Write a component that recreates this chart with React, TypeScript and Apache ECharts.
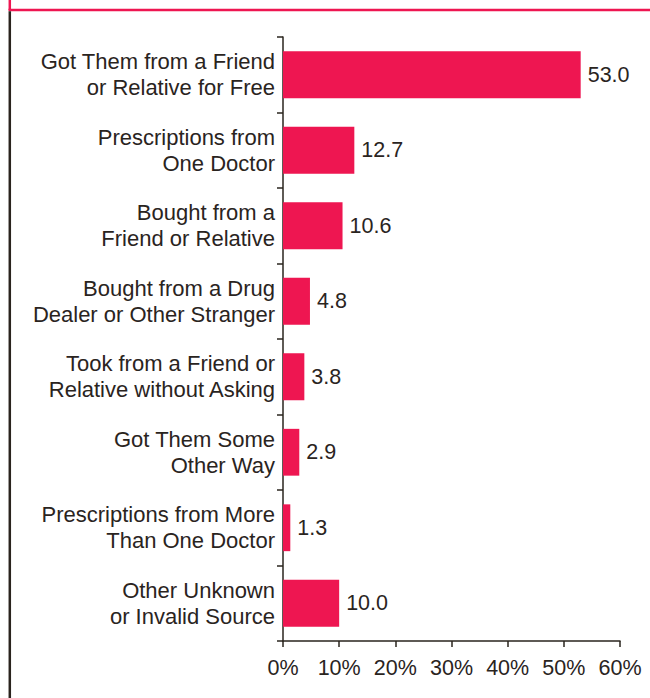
import React, { useEffect, useRef } from "react";
import * as echarts from "echarts";

const categories = [
  "Got Them from a Friend\nor Relative for Free",
  "Prescriptions from\nOne Doctor",
  "Bought from a\nFriend or Relative",
  "Bought from a Drug\nDealer or Other Stranger",
  "Took from a Friend or\nRelative without Asking",
  "Got Them Some\nOther Way",
  "Prescriptions from More\nThan One Doctor",
  "Other Unknown\nor Invalid Source",
];
const values = [53.0, 12.7, 10.6, 4.8, 3.8, 2.9, 1.3, 10.0];
const xTicks = [0, 10, 20, 30, 40, 50, 60];

const TEXT = "#2a241e";
const PINK = "#EE1651";
const FONT = "'Liberation Sans', Arial, Helvetica, sans-serif";

export default function App() {
  const ref = useRef<HTMLDivElement>(null);
  useEffect(() => {
    if (!ref.current) return;
    const chart = echarts.init(ref.current, null, { renderer: "svg" });
    chart.setOption({
      animation: false,
      backgroundColor: "#ffffff",
      textStyle: { fontFamily: FONT },
      grid: { left: 283, right: 30, top: 37, bottom: 57, containLabel: false },
      xAxis: {
        type: "value",
        min: xTicks[0],
        max: xTicks[xTicks.length - 1],
        interval: 10,
        splitLine: { show: false },
        axisLine: { show: true, lineStyle: { color: TEXT, width: 1.5 } },
        axisTick: { show: true, length: 6, lineStyle: { color: TEXT, width: 1.5 } },
        axisLabel: {
          color: TEXT,
          fontSize: 21.5,
          fontFamily: FONT,
          margin: 16,
          formatter: (v: number) => `${v}%`,
        },
      },
      yAxis: {
        type: "category",
        inverse: true,
        data: categories,
        axisLine: { show: true, lineStyle: { color: TEXT, width: 1.5 } },
        axisTick: { show: true, length: 6, lineStyle: { color: TEXT, width: 1.5 } },
        axisLabel: {
          color: TEXT,
          fontSize: 22,
          lineHeight: 26,
          fontFamily: FONT,
          margin: 8,
          align: "right",
        },
      },
      series: [
        {
          type: "bar",
          data: values,
          barCategoryGap: "38%",
          itemStyle: { color: PINK },
          label: {
            show: true,
            position: "right",
            distance: 7,
            color: TEXT,
            fontSize: 21.5,
            fontFamily: FONT,
            formatter: (p: any) => Number(p.value).toFixed(1),
          },
        },
      ],
      graphic: [
        {
          type: "line",
          shape: { x1: 9.8, y1: 0, x2: 9.8, y2: 10 },
          style: { stroke: PINK, lineWidth: 2.5 },
        },
        {
          type: "line",
          shape: { x1: 8.5, y1: 10, x2: 650, y2: 10 },
          style: { stroke: PINK, lineWidth: 2.5 },
        },
        {
          type: "line",
          shape: { x1: 9.8, y1: 11.2, x2: 9.8, y2: 698 },
          style: { stroke: TEXT, lineWidth: 2.5 },
        },
      ],
    });
    return () => chart.dispose();
  }, []);
  return (
    <div
      ref={ref}
      style={{ position: "fixed", left: 0, top: 0, width: 650, height: 698 }}
    />
  );
}
